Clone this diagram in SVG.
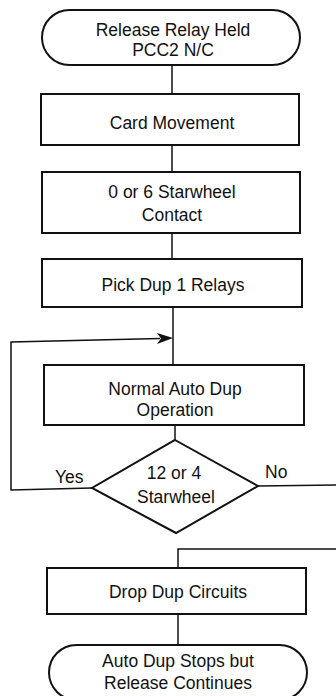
<svg xmlns="http://www.w3.org/2000/svg" width="336" height="696" viewBox="0 0 336 696">
<defs>
<style>
.n{fill:#fff;stroke:#111;stroke-width:2}
.t{font-family:"Liberation Sans",Arial,sans-serif;font-size:17.5px;fill:#111;text-anchor:middle}
.l{font-family:"Liberation Sans",Arial,sans-serif;font-size:17.5px;fill:#111}
.c{fill:none;stroke:#111;stroke-width:1.5}
.a{fill:#111;stroke:none}
</style>
</defs>
<rect width="336" height="696" fill="#fff"/>
<g id="connectors">
<path class="c" d="M172,65 V94"/>
<path class="c" d="M172,145 V172"/>
<path class="c" d="M172,233 V259"/>
<path class="c" d="M173,307 V365"/>
<path class="c" d="M175,425 V440"/>
<path class="c" d="M92,488 L11,490 V342 L160,338.4"/>
<path class="a" d="M173,338 L157,333 L161,338.4 L157,344 Z"/>
<path class="c" d="M258,486 L336,485"/>
<path class="c" d="M336,549 H178 V568"/>
<path class="c" d="M178,614 V645"/>
</g>
<g id="start">
<rect class="n" x="42" y="10" width="258" height="55" rx="27.5"/>
<text class="t" x="173" y="36">Release Relay Held</text>
<text class="t" x="173" y="56">PCC2 N/C</text>
</g>
<g id="card-movement">
<rect class="n" x="41" y="94" width="258" height="51"/>
<text class="t" x="172" y="129">Card Movement</text>
</g>
<g id="starwheel-contact">
<rect class="n" x="42" y="172" width="258" height="61"/>
<text class="t" x="172" y="198">0 or 6 Starwheel</text>
<text class="t" x="172" y="221">Contact</text>
</g>
<g id="pick-dup">
<rect class="n" x="42" y="259" width="260" height="48"/>
<text class="t" x="173" y="291">Pick Dup 1 Relays</text>
</g>
<g id="normal-auto-dup">
<rect class="n" x="44" y="365" width="260" height="60"/>
<text class="t" x="175" y="395">Normal Auto Dup</text>
<text class="t" x="175" y="416">Operation</text>
</g>
<g id="decision">
<path class="n" d="M175,440 L258,486 L176,533 L92,488 Z"/>
<text class="t" x="174" y="479">12 or 4</text>
<text class="t" x="176" y="503">Starwheel</text>
</g>
<g id="labels">
<text class="l" x="55" y="483">Yes</text>
<text class="l" x="265" y="478">No</text>
</g>
<g id="drop-dup">
<rect class="n" x="47" y="568" width="259" height="46"/>
<text class="t" x="178" y="598">Drop Dup Circuits</text>
</g>
<g id="end">
<rect class="n" x="49" y="645" width="258" height="55" rx="27.5"/>
<text class="t" x="178" y="667">Auto Dup Stops but</text>
<text class="t" x="178" y="689">Release Continues</text>
</g>
</svg>
